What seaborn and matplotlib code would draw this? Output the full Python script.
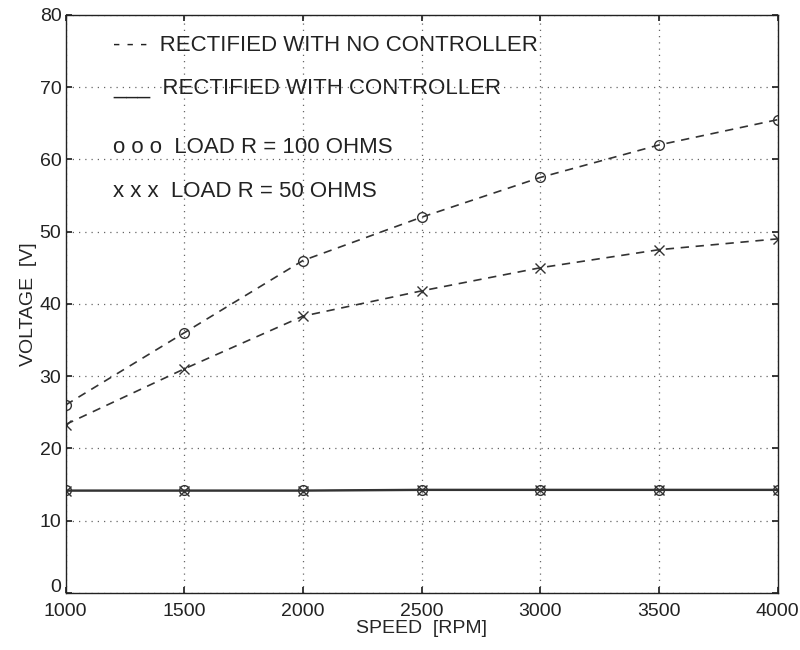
import matplotlib
matplotlib.use("Agg")
import matplotlib.pyplot as plt
import matplotlib.transforms as mtransforms
import pandas as pd
import seaborn as sns

# Datos
speed = [1000, 1500, 2000, 2500, 3000, 3500, 4000]
v_100_noctrl = [26.0, 36.0, 46.0, 52.0, 57.5, 62.0, 65.5]
v_50_noctrl = [23.3, 31.0, 38.3, 41.8, 45.0, 47.5, 49.0]
v_100_ctrl = [14.2, 14.2, 14.2, 14.3, 14.3, 14.3, 14.3]
v_50_ctrl = [14.1, 14.1, 14.1, 14.2, 14.2, 14.2, 14.2]

legend_lines = ["- - -  RECTIFIED WITH NO CONTROLLER",
                "___  RECTIFIED WITH CONTROLLER",
                "o o o  LOAD R = 100 OHMS",
                "x x x  LOAD R = 50 OHMS"]

sns.set_theme(style="white")
plt.rcParams['font.family'] = ['Liberation Sans', 'DejaVu Sans']

df = pd.DataFrame({
    "speed": speed * 4,
    "voltage": v_100_noctrl + v_50_noctrl + v_100_ctrl + v_50_ctrl,
    "serie": ["100nc"] * 7 + ["50nc"] * 7 + ["100c"] * 7 + ["50c"] * 7,
})

fig, ax = plt.subplots(figsize=(8, 6.5), dpi=100)

estilos = {
    "100nc": dict(ls=(0, (5, 4)), marker="o"),
    "50nc": dict(ls=(0, (5, 4)), marker="x"),
    "100c": dict(ls="-", marker="o"),
    "50c": dict(ls="-", marker="x"),
}
for nombre, st in estilos.items():
    sub = df[df["serie"] == nombre]
    sns.lineplot(data=sub, x="speed", y="voltage", ax=ax, color="#333333",
                 linewidth=1.2, linestyle=st["ls"], marker=st["marker"],
                 markersize=7, markerfacecolor="none", markeredgecolor="#333333",
                 markeredgewidth=1.0)

ax.set_xlim(1000, 4000)
ax.set_ylim(0, 80)
ax.set_xticks(speed)
ax.set_yticks(range(0, 81, 10))
ax.grid(True, linestyle=(0, (1, 4)), color="#666666", linewidth=0.9)
for s in ax.spines.values():
    s.set_color("#222222")
    s.set_linewidth(1.0)
ax.tick_params(direction="in", length=4, labelsize=14, colors="#222222",
               top=True, right=True, bottom=True, left=True)
ax.tick_params(axis="x", pad=7)
ax.tick_params(axis="y", pad=3)
ax.set_xlabel("SPEED  [RPM]", fontsize=14, labelpad=0)
ax.set_ylabel("VOLTAGE  [V]", fontsize=14, labelpad=2)

# el "0" del eje y se sube un poco para no pisar el "1000"
fig.canvas.draw()
lbl0 = ax.get_yticklabels()[0]
lbl0.set_transform(lbl0.get_transform() + mtransforms.ScaledTranslation(0, 5 / 72, fig.dpi_scale_trans))

# Leyenda escrita como texto dentro del grafico
ypos = [75.8, 69.8, 61.6, 55.6]
for txt, y in zip(legend_lines, ypos):
    ax.text(1200, y, txt, fontsize=16, color="#222222", va="center", ha="left")

fig.subplots_adjust(left=0.082, right=0.972, bottom=0.088, top=0.977)
fig.savefig("out.png", dpi=100)
